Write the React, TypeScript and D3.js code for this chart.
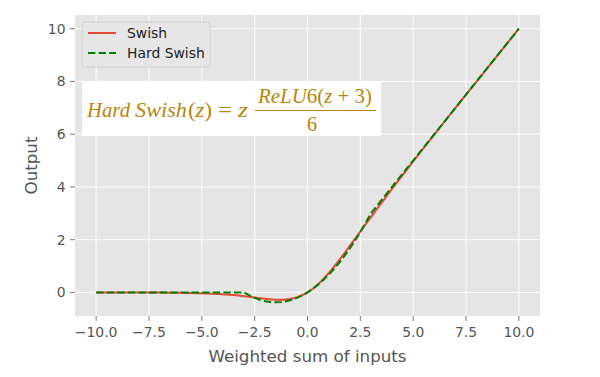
import React from "react";
import * as d3 from "d3";

const swishX = [-10,-9.5,-9,-8.5,-8,-7.5,-7,-6.5,-6,-5.5,-5,-4.5,-4,-3.5,-3,-2.5,-2,-1.5,-1,-0.5,0,0.5,1,1.5,2,2.5,3,3.5,4,4.5,5,5.5,6,6.5,7,7.5,8,8.5,9,9.5,10];
const swishY = [-0.00045,-0.00071,-0.00111,-0.00173,-0.00268,-0.00414,-0.00638,-0.00978,-0.01483,-0.02231,-0.03346,-0.0495,-0.07194,-0.10212,-0.14228,-0.18965,-0.23841,-0.27363,-0.26894,-0.18877,0,0.31123,0.73106,1.22637,1.76159,2.31035,2.85772,3.39788,3.92806,4.4505,4.96654,5.47769,5.98517,6.49022,6.99362,7.49586,7.99732,8.49827,8.99889,9.49929,9.99955];

const hardX = [-10,-9,-8,-7,-6,-5,-4,-3,-2.75,-2.5,-2.25,-2,-1.75,-1.5,-1.25,-1,-0.75,-0.5,-0.25,0,0.25,0.5,0.75,1,1.25,1.5,1.75,2,2.25,2.5,2.75,3,3.5,4,5,6,7,8,9,10];
const hardY = [0,0,0,0,0,0,0,0,-0.11458,-0.20833,-0.28125,-0.33333,-0.36458,-0.375,-0.36458,-0.33333,-0.28125,-0.20833,-0.11458,0,0.13542,0.29167,0.46875,0.66667,0.88542,1.125,1.38542,1.66667,1.96875,2.29167,2.63542,3,3.5,4,5,6,7,8,9,10];

const xTicks = [-10, -7.5, -5, -2.5, 0, 2.5, 5, 7.5, 10];
const yTicks = [0, 2, 4, 6, 8, 10];
const seriesNames = ["Swish", "Hard Swish"];
const xLabel = "Weighted sum of inputs";
const yLabel = "Output";

const W = 600, H = 377;
const L = 75, R = 540, T = 15, B = 316;

export default function App() {
  const x = d3.scaleLinear().domain([-11, 11]).range([L, R]);
  const y = d3.scaleLinear().domain([-0.894, 10.519]).range([B, T]);
  const swishLine = d3.line<number>().x((_, i) => x(swishX[i])).y((d) => y(d)).curve(d3.curveCatmullRom);
  const hardLine = d3.line<number>().x((_, i) => x(hardX[i])).y((d) => y(d)).curve(d3.curveLinear);
  const font = "DejaVu Sans, sans-serif";
  const gold = "#b8860b";
  const mathFont = "Liberation Serif, serif";
  const fs = 13.9;
  return (
    <svg width={W} height={H} style={{ position: "absolute", left: 0, top: 0, background: "#fff" }}>
      <rect x={L} y={T} width={R - L} height={B - T} fill="#e5e5e5" />
      {xTicks.map((t) => (
        <line key={"gx" + t} x1={x(t)} x2={x(t)} y1={T} y2={B} stroke="#fff" strokeWidth={1} />
      ))}
      {yTicks.map((t) => (
        <line key={"gy" + t} x1={L} x2={R} y1={y(t)} y2={y(t)} stroke="#fff" strokeWidth={1} />
      ))}
      <path d={swishLine(swishY) || ""} fill="none" stroke="#E24A33" strokeWidth={2} />
      <path d={hardLine(hardY) || ""} fill="none" stroke="#008000" strokeWidth={2} strokeDasharray="7.4,3.2" />
      {xTicks.map((t) => (
        <g key={"tx" + t}>
          <line x1={x(t)} x2={x(t)} y1={B} y2={B + 4.9} stroke="#555" strokeWidth={0.8} />
          <text x={x(t)} y={B + 20.5} textAnchor="middle" fontFamily={font} fontSize={fs} fill="#555">
            {d3.format(".1f")(t).replace("-", "\u2212")}
          </text>
        </g>
      ))}
      {yTicks.map((t) => (
        <g key={"ty" + t}>
          <line x1={L - 4.9} x2={L} y1={y(t)} y2={y(t)} stroke="#555" strokeWidth={0.8} />
          <text x={L - 9.5} y={y(t) + 5} textAnchor="end" fontFamily={font} fontSize={fs} fill="#555">
            {String(t)}
          </text>
        </g>
      ))}
      <text x={(L + R) / 2} y={362} textAnchor="middle" fontFamily={font} fontSize={16.7} fill="#555">{xLabel}</text>
      <text transform={`translate(36.5,${(T + B) / 2}) rotate(-90)`} textAnchor="middle" fontFamily={font} fontSize={16.7} fill="#555">{yLabel}</text>
      {/* legend */}
      <rect x={82} y={22} width={128} height={45} rx={3} fill="#e5e5e5" fillOpacity={0.9} stroke="#ccc" strokeWidth={0.8} />
      <line x1={88} x2={116} y1={33} y2={33} stroke="#E24A33" strokeWidth={2} />
      <line x1={88} x2={116} y1={53} y2={53} stroke="#008000" strokeWidth={2} strokeDasharray="7.4,3.2" />
      <text x={127} y={38} fontFamily={font} fontSize={fs} fill="#222">{seriesNames[0]}</text>
      <text x={127} y={58} fontFamily={font} fontSize={fs} fill="#222">{seriesNames[1]}</text>
      {/* formula */}
      <rect x={82} y={81} width={299} height={55} fill="#fff" />
      <g fontFamily={mathFont} fontSize={22} fill={gold}>
        <text x={87} y={117} fontStyle="italic" textLength={43} lengthAdjust="spacingAndGlyphs">Hard</text>
        <text x={135} y={117} fontStyle="italic" textLength={52} lengthAdjust="spacingAndGlyphs">Swish</text>
        <text x={188} y={117} textLength={24} lengthAdjust="spacingAndGlyphs">
          (<tspan fontStyle="italic">z</tspan>)
        </text>
        <text x={218} y={117} textLength={14} lengthAdjust="spacingAndGlyphs">=</text>
        <text x={238} y={117} fontStyle="italic" textLength={10} lengthAdjust="spacingAndGlyphs">z</text>
        <text x={258} y={103} fontSize={21} textLength={114} lengthAdjust="spacingAndGlyphs">
          <tspan fontStyle="italic">ReLU</tspan>6(<tspan fontStyle="italic">z</tspan> + 3)
        </text>
        <text x={312} y={131} fontSize={20} textAnchor="middle">6</text>
      </g>
      <line x1={255} x2={376} y1={110.5} y2={110.5} stroke={gold} strokeWidth={1} />
    </svg>
  );
}
